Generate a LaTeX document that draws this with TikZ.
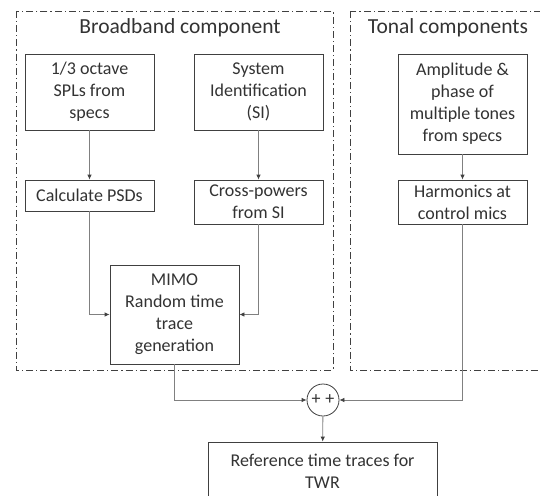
\documentclass[tikz,border=0pt]{standalone}
\usepackage{fontspec}
\setmainfont{Carlito}
\usetikzlibrary{arrows.meta}
\definecolor{boxc}{HTML}{404040}
\definecolor{linec}{HTML}{808080}
\definecolor{txtc}{HTML}{333333}
\begin{document}
\begin{tikzpicture}[x=1pt,y=1pt,
  blk/.style={draw=boxc,line width=0.8pt,align=center,inner sep=0pt,minimum width=129pt,
    font=\fontsize{18}{22}\selectfont,text=txtc},
  conn/.style={draw=linec,line width=0.8pt,arrows={-{Latex[length=5pt,width=4.5pt,color=boxc]}}},
  frame/.style={draw=boxc,line width=0.8pt,dash pattern=on 7pt off 3pt on 1.2pt off 3pt},
  ttl/.style={font=\fontsize{21.5}{24}\selectfont,text=txtc}]
\useasboundingbox (0,0) rectangle (540,-495);
\fill[white] (0,0) rectangle (540,-495);
\draw[frame] (16,-11) rectangle (333,-370);
\draw[frame] (350,-11) rectangle (548,-370);
\node[ttl] (t1) at (180,-28) {Broadband component};
\node[ttl] (t2) at (448,-28) {Tonal components};
\node[blk,minimum height=76pt] (oct) at (89.5,-92) {1/3 octave\\SPLs from\\specs};
\node[blk,minimum height=76pt] (si) at (258.5,-92) {System\\Identification\\(SI)};
\node[blk,minimum height=31pt] (psd) at (89.5,-195.5) {Calculate PSDs};
\node[blk,minimum height=44pt] (cross) at (258.5,-202) {Cross-powers\\from SI};
\node[blk,minimum height=100pt] (amp) at (462.5,-104) {Amplitude \&\\phase of\\multiple tones\\from specs};
\node[blk,minimum height=99pt] (mimo) at (174.5,-314.5) {MIMO\\Random time\\trace\\generation};
\node[blk,minimum height=44pt] (harm) at (462.5,-202) {Harmonics at\\control mics};
\node[draw=boxc,line width=0.8pt,circle,minimum size=32pt,inner sep=0pt,font=\fontsize{18}{18}\selectfont,text=txtc] (sum) at (323,-400) {+\hspace{5pt}+};
\node[blk,minimum width=229pt,minimum height=58pt] (ref) at (322.5,-471) {Reference time traces for\\TWR};
\draw[conn] (oct) -- (psd);
\draw[conn] (si) -- (cross);
\draw[conn] (amp) -- (harm);
\draw[conn] (psd.south) |- (mimo.west);
\draw[conn] (cross.south) |- (mimo.east);
\draw[conn] (mimo.south) |- (sum.west);
\draw[conn] (harm.south) |- (sum.east);
\draw[conn] (sum) -- (ref);
\end{tikzpicture}
\end{document}
